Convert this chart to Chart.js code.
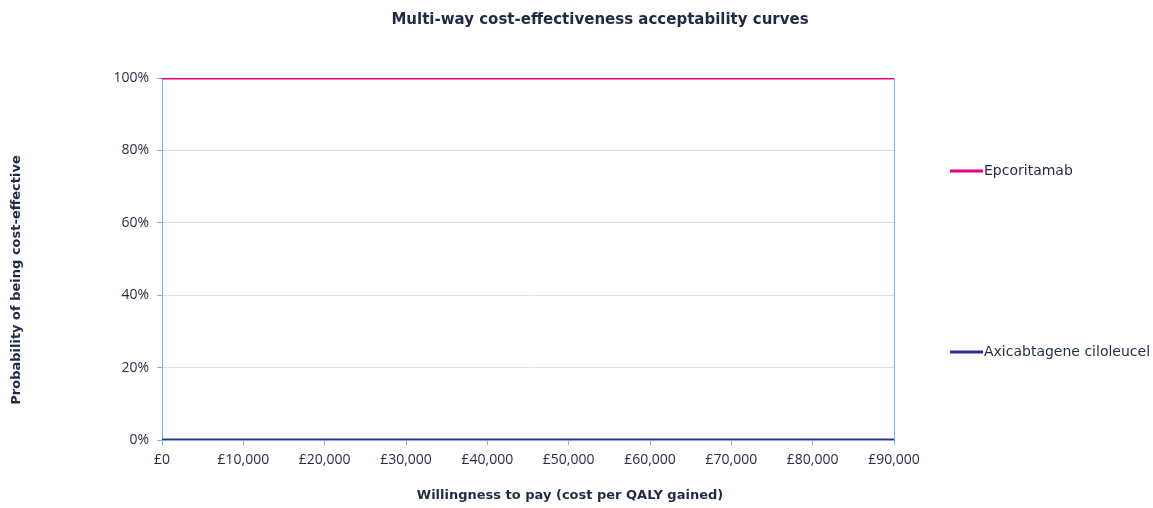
<!DOCTYPE html>
<html>
<head>
<meta charset="utf-8">
<script src="https://cdn.jsdelivr.net/npm/chart.js@4"></script>
<style>
  html, body { margin: 0; padding: 0; background: white; }
  #wrap { width: 1153px; height: 508px; }
</style>
</head>
<body>
<div id="wrap"><canvas id="ceac"></canvas></div>
<script>
// willingness to pay thresholds (£ per QALY)
const wtp = [0, 10000, 20000, 30000, 40000, 50000, 60000, 70000, 80000, 90000]
const epcoritamab = [1, 1, 1, 1, 1, 1, 1, 1, 1, 1]
const axicel = [0, 0, 0, 0, 0, 0, 0, 0, 0, 0]
const seriesNames = ['Epcoritamab', 'Axicabtagene ciloleucel']

const txt = '#1f2a44'
const axisBlue = '#8eaadb'
const font = "'Open Sans', sans-serif"

// legend, title and axis titles are placed by hand
const extras = {
    id: 'extras',
    afterDraw(chart) {
        const c = chart.ctx
        c.save()
        c.fillStyle = txt
        c.font = "bold 15px 'DejaVu Sans', sans-serif"
        c.textAlign = 'center'
        c.textBaseline = 'middle'
        c.fillText('Multi-way cost-effectiveness acceptability curves', 600, 20)

        c.font = "bold 13px 'DejaVu Sans', sans-serif"
        c.fillText('Willingness to pay (cost per QALY gained)', 570, 496)
        c.save()
        c.translate(17, 280)
        c.rotate(-Math.PI / 2)
        c.fillText('Probability of being cost-effective', 0, 0)
        c.restore()

        const ys = [171, 352]
        c.font = "14px 'DejaVu Sans', sans-serif"
        c.textAlign = 'left'
        chart.data.datasets.forEach((ds, i) => {
            c.strokeStyle = ds.borderColor
            c.lineWidth = 3
            c.beginPath()
            c.moveTo(950, ys[i])
            c.lineTo(983, ys[i])
            c.stroke()
            c.fillText(ds.label, 984, ys[i])
        })
        c.restore()
    }
}

const data = {
    labels: wtp,
    datasets: [
        { label: seriesNames[0], data: wtp.map((x, i) => ({ x, y: epcoritamab[i] })), borderColor: '#e6007e', borderWidth: 3, pointRadius: 0 },
        { label: seriesNames[1], data: wtp.map((x, i) => ({ x, y: axicel[i] })), borderColor: '#2e3192', borderWidth: 3, pointRadius: 0 }
    ]
}

const config = {
    type: 'line',
    data,
    options: {
        responsive: true,
        maintainAspectRatio: false,
        animation: false,
        layout: { padding: { left: 0, right: 259, top: 78, bottom: 0 } },
        plugins: { legend: { display: false }, title: { display: false }, tooltip: { enabled: false } },
        scales: {
            x: {
                type: 'linear', min: 0, max: 90000,
                afterFit: s => { s.height = 68 },
                border: { color: axisBlue },
                grid: {
                    color: ctx => ctx.index === 9 ? axisBlue : 'rgba(0,0,0,0)',
                    tickColor: axisBlue, tickLength: 5
                },
                ticks: {
                    stepSize: 10000, color: txt, font: { family: font, size: 14 }, padding: 7,
                    maxRotation: 0,
                    callback: v => '£' + v.toLocaleString('en-GB')
                }
            },
            y: {
                min: 0, max: 1,
                afterFit: s => { s.width = 162 },
                border: { color: axisBlue },
                grid: { color: '#dddddd', tickColor: axisBlue, tickLength: 5 },
                ticks: {
                    stepSize: 0.2, color: txt, font: { family: font, size: 14 }, padding: 8,
                    callback: v => Math.round(v * 100) + '%'
                }
            }
        }
    },
    plugins: [extras]
}

new Chart(document.getElementById('ceac'), config)
</script>
</body>
</html>
